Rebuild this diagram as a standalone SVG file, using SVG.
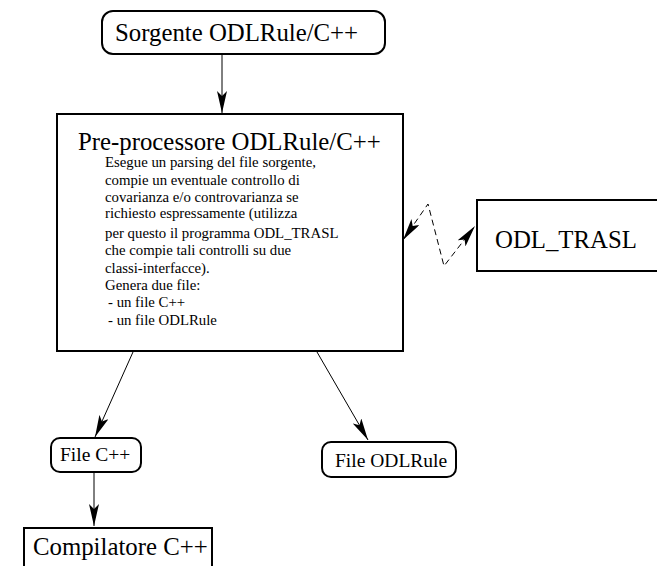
<svg xmlns="http://www.w3.org/2000/svg" width="657" height="566" viewBox="0 0 657 566">
<style>
.box{fill:#fff;stroke:#000;stroke-width:2}
.t{font-family:"Liberation Serif","Times New Roman",serif;fill:#000}
.big{font-size:24.8px}
.mid{font-size:19.5px}
.small{font-size:14.8px}
.c{fill:none;stroke:#000;stroke-width:1}
.d{fill:none;stroke:#000;stroke-width:1;stroke-dasharray:6,4}
</style>
<defs>
<marker id="ah" markerUnits="userSpaceOnUse" viewBox="0 0 22 10" markerWidth="22" markerHeight="10" refX="22" refY="5" orient="auto-start-reverse">
<path d="M0,0 L22,5 L0,10 L5,5 z" fill="#000"/>
</marker>
</defs>
<rect width="657" height="566" fill="#fff"/>
<g id="connectors">
<line class="c" x1="222" y1="54" x2="222" y2="113" marker-end="url(#ah)"/>
<line class="c" x1="133" y1="352" x2="95" y2="437" marker-end="url(#ah)"/>
<line class="c" x1="317" y1="352" x2="368" y2="440" marker-end="url(#ah)"/>
<line class="c" x1="94" y1="472" x2="94" y2="526" marker-end="url(#ah)"/>
<polyline class="d" points="403,240 428,204 444,266 475,226" marker-start="url(#ah)" marker-end="url(#ah)"/>
</g>
<g id="sorgente">
<rect class="box" x="102" y="11" width="283" height="43" rx="11"/>
<text class="t big" x="115" y="41">Sorgente ODLRule/C++</text>
</g>
<g id="preprocessore">
<rect class="box" x="57" y="114" width="346" height="237"/>
<text class="t big" x="78" y="150">Pre-processore ODLRule/C++</text>
<text class="t small" x="105" y="167">Esegue un parsing del file sorgente,</text>
<text class="t small" x="105" y="185">compie un eventuale controllo di</text>
<text class="t small" x="105" y="202">covarianza e/o controvarianza se</text>
<text class="t small" x="105" y="218">richiesto espressamente (utilizza</text>
<text class="t small" x="105" y="238">per questo il programma ODL_TRASL</text>
<text class="t small" x="105" y="255">che compie tali controlli su due</text>
<text class="t small" x="105" y="273">classi-interfacce).</text>
<text class="t small" x="105" y="290">Genera due file:</text>
<text class="t small" x="108" y="307">- un file C++</text>
<text class="t small" x="108" y="325">- un file ODLRule</text>
</g>
<g id="odl_trasl">
<rect class="box" x="477" y="200" width="182" height="71"/>
<text class="t big" x="495" y="248">ODL_TRASL</text>
</g>
<g id="filecpp">
<rect class="box" x="51" y="438" width="90" height="34" rx="9"/>
<text class="t mid" x="60" y="461">File C++</text>
</g>
<g id="fileodlrule">
<rect class="box" x="322" y="442" width="134" height="35" rx="9"/>
<text class="t mid" x="335" y="467">File ODLRule</text>
</g>
<g id="compilatore">
<rect class="box" x="24" y="528" width="188" height="50"/>
<text class="t big" x="33" y="555">Compilatore C++</text>
</g>
</svg>
